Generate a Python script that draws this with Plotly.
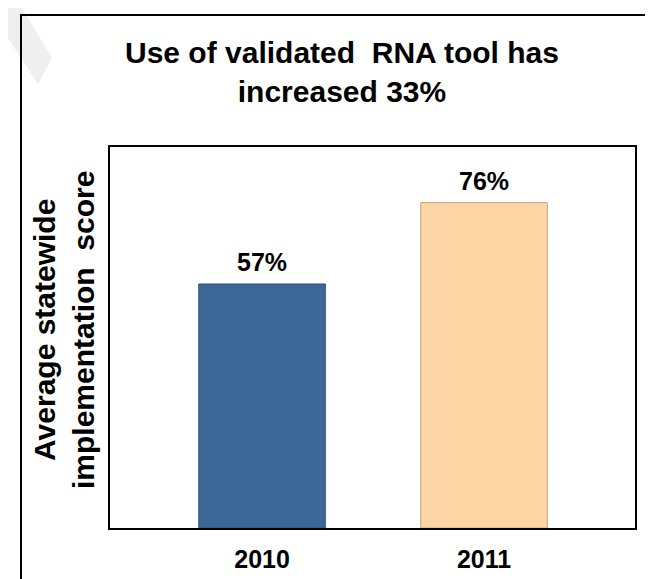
import plotly.graph_objects as go

# Data
categories = ["2010", "2011"]
values = [57, 76]
value_labels = ["57%", "76%"]
bar_colors = ["#3D6796", "#FCD6A4"]
bar_edges = ["#2E5482", "#C9A27C"]

title_text = "Use of validated  RNA tool has<br>increased 33%"
ytitle_text = "Average statewide<br>implementation  score"

W, H = 653, 579
L, R, T, B = 102, 26, 139, 59
pw, ph = W - L - R, H - T - B

def px_x(x):
    return (x - L) / pw

def px_y(y):
    return (H - B - y) / ph

fig = go.Figure()
fig.add_trace(go.Bar(
    x=list(range(len(categories))),
    y=values,
    width=0.57,
    marker=dict(color=bar_colors, line=dict(color=bar_edges, width=1)),
    hoverinfo="skip",
))

annotations = []
for i, (v, lab) in enumerate(zip(values, value_labels)):
    annotations.append(dict(
        x=i, y=v, xref="x", yref="y", text=lab, showarrow=False,
        yanchor="bottom", yshift=6,
        font=dict(family="Liberation Sans, Arial, sans-serif", size=25, color="black", weight="bold"),
    ))

annotations.append(dict(
    x=px_x(334), y=px_y(64), xref="paper", yref="paper", text=title_text,
    showarrow=False, xanchor="center", yanchor="middle",
    font=dict(family="Liberation Sans, Arial, sans-serif", size=30, color="black", weight="bold"),
))
annotations.append(dict(
    x=px_x(56), y=px_y(322), xref="paper", yref="paper", text=ytitle_text,
    showarrow=False, xanchor="center", yanchor="middle", textangle=-90,
    font=dict(family="Liberation Sans, Arial, sans-serif", size=30, color="black", weight="bold"),
))

shapes = [
    # outer frame (left and top edges)
    dict(type="path", xref="paper", yref="paper",
         path=f"M {px_x(13)},{px_y(H + 5)} L {px_x(13)},{px_y(7)} L {px_x(W + 5)},{px_y(7)}",
         line=dict(color="black", width=2)),
    # faint watermark fragment in the corner
    dict(type="path", xref="paper", yref="paper",
         path=(f"M {px_x(0)},{px_y(0)} L {px_x(14)},{px_y(0)} L {px_x(44)},{px_y(50)} "
               f"L {px_x(30)},{px_y(76)} L {px_x(0)},{px_y(30)} Z"),
         fillcolor="#EFEFEF", line=dict(width=0), layer="below"),
]

fig.update_layout(
    width=W, height=H,
    margin=dict(l=L, r=R, t=T, b=B),
    paper_bgcolor="white", plot_bgcolor="white",
    showlegend=False,
    bargap=0.4,
    annotations=annotations,
    shapes=shapes,
    xaxis=dict(
        range=[-0.685, 1.68],
        tickmode="array", tickvals=list(range(len(categories))), ticktext=categories,
        showgrid=False, zeroline=False, ticks="",
        showline=True, mirror=True, linecolor="black", linewidth=2,
        tickfont=dict(family="Liberation Sans, Arial, sans-serif", size=25, color="black", weight="bold"),
        ticklabelstandoff=8,
    ),
    yaxis=dict(
        range=[0, 89], showgrid=False, zeroline=False, showticklabels=False, ticks="",
        showline=True, mirror=True, linecolor="black", linewidth=2,
    ),
)

fig.write_html("out.html")
